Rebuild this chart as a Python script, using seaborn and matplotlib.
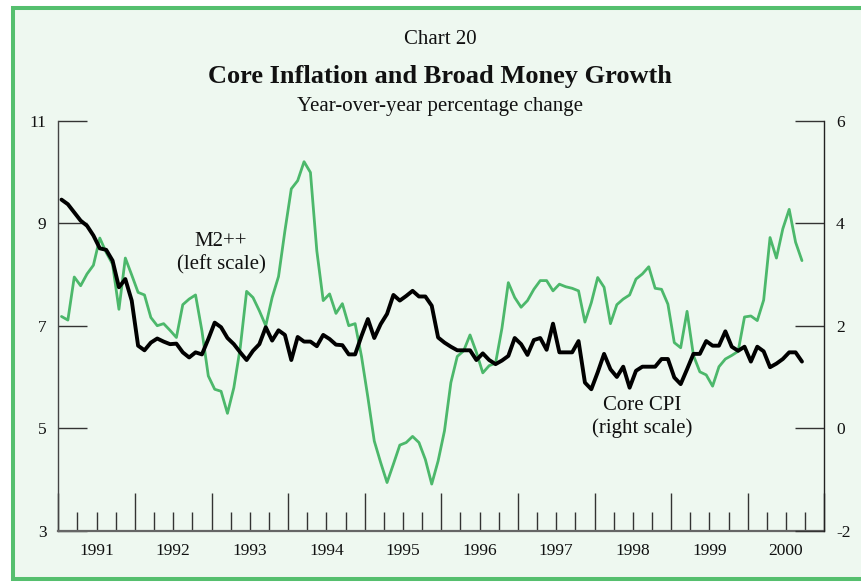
import numpy as np
import pandas as pd
import matplotlib
matplotlib.use("Agg")
import matplotlib.pyplot as plt
import seaborn as sns
from matplotlib.patches import Rectangle
from matplotlib.ticker import FuncFormatter, NullFormatter

# ---------------- data (monthly, Jan 1991 - Sep 2000) ----------------
start_year = 1991
m2pp = [7.18, 7.11, 7.95, 7.78, 8.01, 8.18, 8.71, 8.43, 8.20, 7.32, 8.32, 7.99,
        7.65, 7.60, 7.16, 7.00, 7.04, 6.91, 6.77, 7.41, 7.52, 7.60, 6.90, 6.02,
        5.76, 5.72, 5.29, 5.79, 6.57, 7.67, 7.55, 7.29, 7.00, 7.55, 7.96, 8.85,
        9.67, 9.83, 10.20, 9.99, 8.46, 7.49, 7.62, 7.24, 7.43, 7.00, 7.04, 6.40,
        5.60, 4.75, 4.33, 3.94, 4.30, 4.67, 4.72, 4.84, 4.72, 4.39, 3.91, 4.36,
        4.95, 5.89, 6.40, 6.51, 6.82, 6.48, 6.08, 6.22, 6.27, 6.95, 7.84, 7.55,
        7.36, 7.49, 7.71, 7.88, 7.88, 7.68, 7.81, 7.76, 7.73, 7.68, 7.07, 7.45,
        7.94, 7.75, 7.04, 7.41, 7.52, 7.60, 7.91, 8.01, 8.15, 7.73, 7.71, 7.42,
        6.67, 6.57, 7.28, 6.42, 6.10, 6.04, 5.82, 6.20, 6.35, 6.42, 6.50, 7.17,
        7.19, 7.10, 7.50, 8.72, 8.32, 8.89, 9.27, 8.63, 8.27]
core_cpi = [4.46, 4.37, 4.21, 4.05, 3.95, 3.76, 3.51, 3.48, 3.27, 2.75, 2.91, 2.49,
            1.61, 1.52, 1.67, 1.75, 1.69, 1.64, 1.65, 1.48, 1.38, 1.48, 1.44, 1.74,
            2.06, 1.97, 1.76, 1.64, 1.48, 1.33, 1.51, 1.64, 1.97, 1.71, 1.91, 1.82,
            1.33, 1.78, 1.69, 1.69, 1.60, 1.82, 1.74, 1.63, 1.62, 1.44, 1.44, 1.80,
            2.13, 1.76, 2.03, 2.23, 2.60, 2.49, 2.58, 2.68, 2.57, 2.57, 2.39, 1.77,
            1.67, 1.59, 1.52, 1.52, 1.52, 1.33, 1.46, 1.33, 1.25, 1.32, 1.41, 1.76,
            1.64, 1.43, 1.72, 1.76, 1.53, 2.04, 1.48, 1.48, 1.48, 1.70, 0.89, 0.76,
            1.09, 1.45, 1.15, 1.00, 1.20, 0.79, 1.12, 1.20, 1.20, 1.20, 1.35, 1.35,
            0.99, 0.86, 1.15, 1.45, 1.45, 1.70, 1.61, 1.61, 1.89, 1.59, 1.51, 1.59,
            1.30, 1.59, 1.50, 1.19, 1.26, 1.35, 1.48, 1.48, 1.30]
year_labels = [str(y) for y in range(1991, 2001)]
left_ticks = [3, 5, 7, 9, 11]
right_ticks = [-2, 0, 2, 4, 6]

# ---------------- style ----------------
sns.set_theme(style="white")
plt.rcParams["font.family"] = ["Liberation Serif", "DejaVu Serif"]

W, H = 861, 583
fig = plt.figure(figsize=(W / 100, H / 100), dpi=100)
fig.patch.set_facecolor("white")
bg = "#eef8f0"
green = "#4cb86b"
frame = Rectangle((13 / W, 1 - 579 / H), (900 - 13) / W, (579 - 8) / H,
                  transform=fig.transFigure, facecolor=bg,
                  edgecolor="#55bf6e", linewidth=2.9, zorder=-10)
fig.patches.append(frame)

L, R, T, B = 58.3, 824.3, 120.7, 530.7
ax = fig.add_axes([L / W, 1 - B / H, (R - L) / W, (B - T) / H])
ax.set_facecolor(bg)
ax.patch.set_alpha(0.0)

n = len(m2pp)
df = pd.DataFrame({"x": start_year + (np.arange(n) + 0.5) / 12,
                   "m2": m2pp, "cpi": core_cpi})

sns.lineplot(data=df, x="x", y="m2", ax=ax, color=green, linewidth=2.0)
ax2 = ax.twinx()
sns.lineplot(data=df, x="x", y="cpi", ax=ax2, color="black", linewidth=2.8)

ax.set_xlim(1991, 2001)
ax.set_ylim(3, 11)
ax2.set_ylim(-2, 6)
for a in (ax, ax2):
    a.set_xlabel("")
    a.set_ylabel("")
    a.grid(False)

# x ticks
ax.set_xticks(list(range(1991, 2002)))
ax.xaxis.set_major_formatter(NullFormatter())
minor = [y + q for y in range(1991, 2001) for q in (0.25, 0.5, 0.75)]
ax.set_xticks(minor, minor=True)
lab_map = {y + 0.5: lab for y, lab in zip(range(1991, 2001), year_labels)}
ax.xaxis.set_minor_formatter(FuncFormatter(
    lambda v, p: next((l for k, l in lab_map.items() if abs(k - v) < 1e-6), "")))
tick_col = "#333333"
ax.tick_params(axis="x", which="major", direction="in", length=27.4, width=1.0,
               color=tick_col, bottom=True, top=False, labelbottom=False)
ax.tick_params(axis="x", which="minor", direction="in", length=13.7, width=1.0,
               color=tick_col, bottom=True, top=False, pad=9, labelsize=12.5,
               labelcolor="#111111")

# y ticks
ax.set_yticks(left_ticks)
ax.set_yticklabels([str(v) for v in left_ticks])
ax.tick_params(axis="y", direction="in", length=20.9, width=1.0, color=tick_col,
               left=True, right=False, pad=8.5, labelsize=12.5, labelcolor="#111111")
ax2.set_yticks(right_ticks)
ax2.set_yticklabels([str(v) for v in right_ticks])
ax2.tick_params(axis="y", direction="in", length=20.9, width=1.0, color=tick_col,
                left=False, right=True, pad=8.5, labelsize=12.5, labelcolor="#111111")

# spines
for a in (ax, ax2):
    a.spines["top"].set_visible(False)
ax.spines["right"].set_visible(False)
ax2.spines["left"].set_visible(False)
ax2.spines["bottom"].set_visible(False)
ax.spines["left"].set_color("#444444")
ax.spines["left"].set_linewidth(1.0)
ax.spines["bottom"].set_color("#666666")
ax.spines["bottom"].set_linewidth(1.6)
ax2.spines["right"].set_color("#222222")
ax2.spines["right"].set_linewidth(1.0)

# titles
cx = 440 / W
fig.text(cx, 1 - 40 / H, "Chart 20", ha="center", va="center", fontsize=15, color="#111111")
fig.text(cx, 1 - 77 / H, "Core Inflation and Broad Money Growth", ha="center",
         va="center", fontsize=19, fontweight="bold", color="#111111")
fig.text(cx, 1 - 106 / H, "Year-over-year percentage change", ha="center",
         va="center", fontsize=15, color="#111111")

# series labels
fig.text(221 / W, 1 - 242 / H, "M2++", ha="center", va="center", fontsize=15, color="#111111")
fig.text(221 / W, 1 - 265 / H, "(left scale)", ha="center", va="center", fontsize=15, color="#111111")
fig.text(642 / W, 1 - 405 / H, "Core CPI", ha="center", va="center", fontsize=15, color="#111111")
fig.text(642 / W, 1 - 428 / H, "(right scale)", ha="center", va="center", fontsize=15, color="#111111")

fig.savefig("out.png", dpi=100, facecolor=fig.get_facecolor())
